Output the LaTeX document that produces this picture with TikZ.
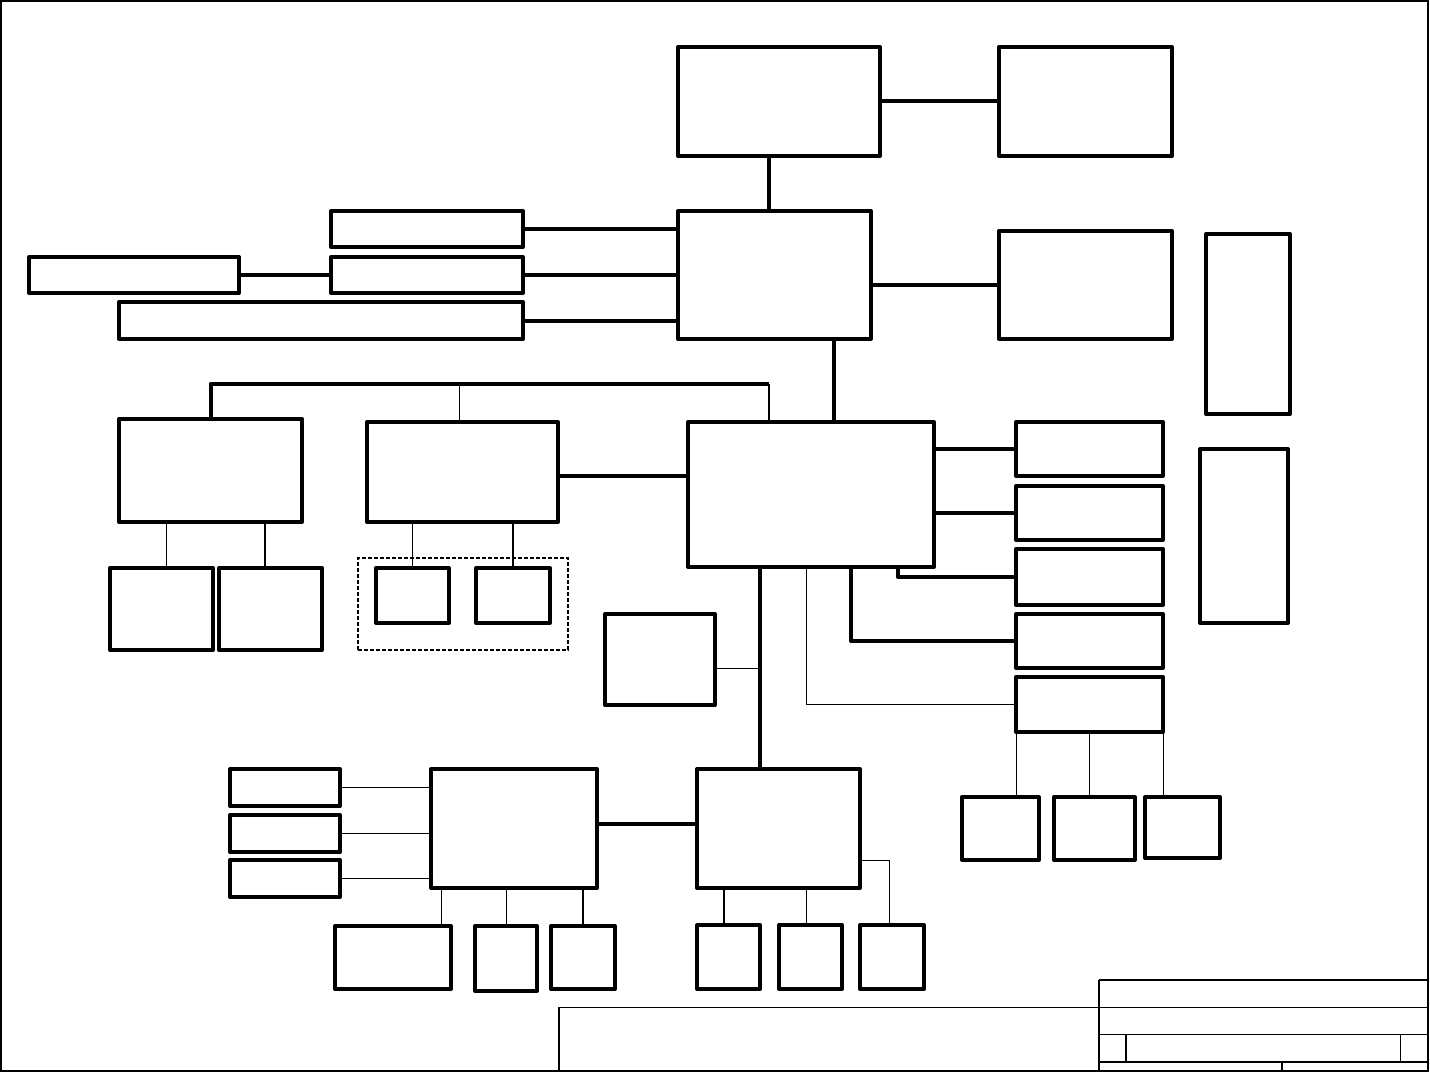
\documentclass[tikz,border=0pt]{standalone}
\usetikzlibrary{calc}
\tikzset{
  blk/.style={draw, line width=4pt, line join=round, inner sep=0pt, outer sep=0pt, anchor=north west},
  thk/.style={line width=4pt, line join=round},
  thn/.style={line width=1pt},
  mid/.style={line width=1.6pt},
  frame/.style={line width=2pt},
}
\newcommand\blkbox[5]{\node[blk, minimum width={(#4-#2)*1pt}, minimum height={(#5-#3)*1pt}] (#1) at (#2,#3) {};}
\begin{document}
\begin{tikzpicture}[x=1pt,y=-1pt]
\useasboundingbox (0,0) rectangle (1430,1073);
% outer frame
\draw[frame] (1,1) rectangle (1428,1071);
% boxes
\blkbox{A}{678}{47}{880}{156}
\blkbox{B}{999}{47}{1172}{156}
\blkbox{C}{678}{211}{871}{339}
\blkbox{D}{999}{231}{1172}{339}
\blkbox{E1}{331}{211}{523}{247}
\blkbox{E2}{331}{257}{523}{293}
\blkbox{E3}{119}{302}{523}{339}
\blkbox{F}{29}{257}{239}{293}
\blkbox{R1}{1206}{234}{1290}{414}
\blkbox{R2}{1200}{449}{1288}{623}
\blkbox{G1}{119}{419}{302}{522}
\blkbox{G2}{367}{422}{558}{522}
\blkbox{H}{688}{422}{934}{567}
\blkbox{K1}{110}{568}{213}{650}
\blkbox{K2}{219}{568}{322}{650}
\blkbox{L1}{376}{568}{449}{623}
\blkbox{L2}{476}{568}{550}{623}
\blkbox{M1}{1016}{422}{1163}{476}
\blkbox{M2}{1016}{486}{1163}{540}
\blkbox{M3}{1016}{549}{1163}{605}
\blkbox{M4}{1016}{614}{1163}{668}
\blkbox{M5}{1016}{677}{1163}{732}
\blkbox{N}{605}{614}{715}{705}
\blkbox{Q1}{962}{797}{1039}{860}
\blkbox{Q2}{1054}{797}{1135}{860}
\blkbox{Q3}{1145}{797}{1220}{858}
\blkbox{O}{431}{769}{597}{888}
\blkbox{P}{697}{769}{860}{888}
\blkbox{S1}{230}{769}{340}{806}
\blkbox{S2}{230}{815}{340}{852}
\blkbox{S3}{230}{860}{340}{897}
\blkbox{T1}{335}{926}{451}{989}
\blkbox{T2}{475}{926}{537}{991}
\blkbox{T3}{551}{926}{615}{989}
\blkbox{U1}{697}{925}{760}{989}
\blkbox{U2}{779}{925}{842}{989}
\blkbox{U3}{860}{925}{924}{989}
\node[draw, line width=1.2pt, dash pattern=on 4pt off 2pt, inner sep=0pt, outer sep=0pt, anchor=north west, minimum width=210pt, minimum height=92pt] (grp) at (358,558) {};
% top connectors
\draw[thk] ([yshift=-54pt]A.north east) coordinate (ab) -- (ab -| B.west);
\draw[thk] ([xshift=91pt]A.south west) coordinate (a1) -- (a1 |- C.north);
\draw[thk] (D.west) -- (D.west -| C.east);
\draw[thk] (E1.east) -- (E1.east -| C.west);
\draw[thk] (E2.east) -- (E2.east -| C.west);
\draw[thk] (E3.east) -- (E3.east -| C.west);
\draw[thk] (F.east) -- (E2.west);
\draw[thk] ([xshift=156pt]C.south west) coordinate (c1) -- (c1 |- H.north);
% bus
\coordinate (bus) at (0,384);
\draw[thk] (G1.north) -- (G1.north |- bus) -- ([xshift=81pt]H.north west |- bus);
\draw[mid] ([xshift=81pt]H.north west) coordinate (h0) -- (h0 |- bus);
\draw[thn] ([xshift=92pt]G2.north west) coordinate (g2) -- (g2 |- bus);
\draw[thk] ([yshift=-54pt]H.north west) coordinate (h2) -- (h2 -| G2.east);
% G1 / G2 children
\draw[thn] ([xshift=56pt]K1.north west) coordinate (k1) -- (k1 |- G1.south);
\draw[mid] ([xshift=46pt]K2.north west) coordinate (k2) -- (k2 |- G1.south);
\draw[thn] (L1.north) -- (L1.north |- G2.south);
\draw[mid] (L2.north) -- (L2.north |- G2.south);
% H right side
\draw[thk] (M1.west) -- (M1.west -| H.east);
\draw[thk] (M2.west) -- (M2.west -| H.east);
\draw[thk] ([xshift=210pt]H.south west) coordinate (h3) -- (h3 |- M3.west) -- (M3.west);
\draw[thk] ([xshift=163pt]H.south west) coordinate (h4) -- (h4 |- M4.west) -- (M4.west);
\draw[thn] ([xshift=118pt]H.south west) coordinate (h5) -- (h5 |- M5.west) -- (M5.west);
% H down
\draw[thk] ([xshift=72pt]H.south west) coordinate (h1) -- (h1 |- P.north);
\draw[thn] ([yshift=-54pt]N.north east) coordinate (n1) -- (n1 -| h1);
% M5 children
\draw[thn] (M5.south west) -- (M5.south west |- Q1.north);
\draw[mid] (M5.south) -- (M5.south |- Q2.north);
\draw[thn] (M5.south east) -- (M5.south east |- Q3.north);
% O / P
\draw[thk] ([yshift=-55pt]O.north east) coordinate (o1) -- (o1 -| P.west);
\draw[thn] (S1.east) -- (S1.east -| O.west);
\draw[thn] (S2.east) -- (S2.east -| O.west);
\draw[mid] (S3.east) -- (S3.east -| O.west);
\draw[thn] ([xshift=10pt]O.south west) coordinate (o2) -- (o2 |- T1.north);
\draw[thn] (T2.north) -- (T2.north |- O.south);
\draw[mid] (T3.north) -- (T3.north |- O.south);
\draw[mid] ([xshift=27pt]P.south west) coordinate (p1) -- (p1 |- U1.north);
\draw[thn] ([xshift=109pt]P.south west) coordinate (p2) -- (p2 |- U2.north);
\draw[thn] ([yshift=-91pt]P.north east) -| ([xshift=29pt]U3.north west);
% title block
\draw[thn] (559,1007) -- (1428,1007);
\draw[frame] (559,1007) -- (559,1071);
\draw[frame] (1099,980) -- (1099,1071);
\draw[mid] (1099,980) -- (1428,980);
\draw[thn] (1099,1034) -- (1428,1034);
\draw[frame] (1126,1034) -- (1126,1062);
\draw[thn] (1400,1034) -- (1400,1062);
\draw[frame] (1099,1062) -- (1428,1062);
\draw[frame] (1282,1062) -- (1282,1071);
\end{tikzpicture}
\end{document}
